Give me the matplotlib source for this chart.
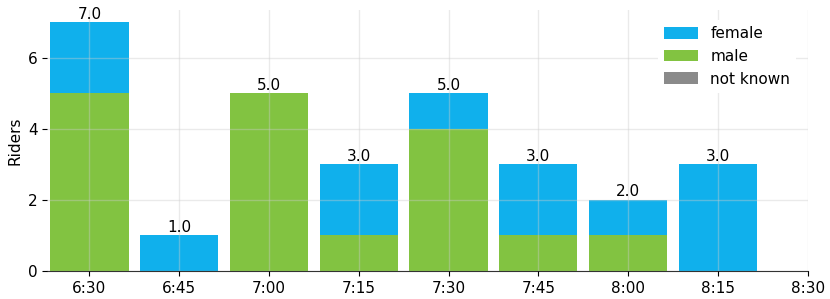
import matplotlib.pyplot as plt
import numpy as np

slots = ["6:30", "6:45", "7:00", "7:15", "7:30", "7:45", "8:00", "8:15"]
tick_labels = slots + ["8:30"]
male = [5, 0, 5, 1, 4, 1, 1, 0]
female = [2, 1, 0, 2, 1, 2, 1, 3]
not_known = [0, 0, 0, 0, 0, 0, 0, 0]

fig = plt.figure(figsize=(8.3, 2.99), dpi=100)
ax = fig.add_axes([0.057, 0.094, 0.916, 0.873])

x = np.arange(len(slots))
w = 0.87
male_a = np.array(male)
female_a = np.array(female)
nk_a = np.array(not_known)

ax.bar(x, male_a, w, color="#82c341", label="male", zorder=2)
ax.bar(x, female_a, w, bottom=male_a, color="#10b0ec", label="female", zorder=2)
ax.bar(x, nk_a, w, bottom=male_a + female_a, color="#8a8a8a", label="not known", zorder=2)

totals = male_a + female_a + nk_a
for xi, t in zip(x, totals):
    ax.text(xi, t + 0.02, f"{float(t):.1f}", ha="center", va="bottom", fontsize=11)

ax.set_xticks(np.arange(len(tick_labels)))
ax.set_xticklabels(tick_labels, fontsize=11)
ax.set_yticks([0, 2, 4, 6])
ax.tick_params(axis="y", labelsize=11)
ax.set_xlim(-0.47, 8.0)
ax.set_ylim(0, 7.35)
ax.set_ylabel("Riders", fontsize=11)

ax.grid(True, color="#cccccc", linewidth=1, alpha=0.4, zorder=3)
ax.set_axisbelow(False)
for s in ["top", "right", "left"]:
    ax.spines[s].set_visible(False)
ax.spines["bottom"].set_color("#333333")

handles, labels = ax.get_legend_handles_labels()
order = [1, 0, 2]
leg = ax.legend([handles[i] for i in order], [labels[i] for i in order],
                loc="upper right", frameon=True, fontsize=11, fancybox=False,
                bbox_to_anchor=(0.995, 0.99), handlelength=2.2, handleheight=0.8)
leg.get_frame().set_edgecolor("none")
leg.get_frame().set_facecolor("white")
leg.get_frame().set_alpha(1)
leg.set_zorder(5)

plt.savefig("out.png")
